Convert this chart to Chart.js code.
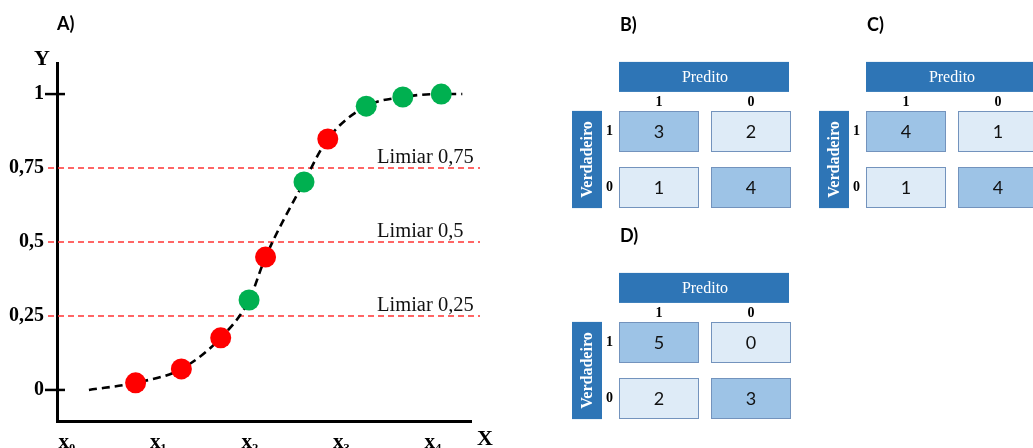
<!DOCTYPE html>
<html>
<head>
<meta charset="utf-8">
<script src="https://cdn.jsdelivr.net/npm/chart.js@4.4.1/dist/chart.umd.min.js"></script>
<style>
  html, body { margin: 0; padding: 0; width: 1033px; height: 448px; overflow: hidden; background: #fff; }
  canvas { position: absolute; }
</style>
</head>
<body>
<canvas id="curve" width="520" height="448" style="left:0;top:0"></canvas>
<canvas id="matB" width="250" height="230" style="left:560px;top:0"></canvas>
<canvas id="matC" width="250" height="230" style="left:807px;top:0"></canvas>
<canvas id="matD" width="250" height="230" style="left:560px;top:211px"></canvas>
<script>
// Scored samples on the logistic curve: position, predicted score, true class (1 / 0)
const scoreX = [0.75, 1.25, 1.68, 1.99, 2.17, 2.59, 2.85, 3.27, 3.67, 4.09];
const scoreY = [0.024, 0.071, 0.176, 0.304, 0.449, 0.703, 0.848, 0.959, 0.990, 1.0];
const trueClass = [0, 0, 0, 1, 0, 1, 0, 1, 1, 1];

// Dashed sigmoid through the samples
const curveX = [0.24, 0.75, 1.25, 1.68, 1.99, 2.17, 2.59, 2.85, 3.27, 3.67, 4.09, 4.32];
const curveY = [0.0, 0.024, 0.071, 0.176, 0.304, 0.449, 0.703, 0.848, 0.959, 0.990, 1.0, 1.0];

// Axis ticks
const xTickValues = [0, 1, 2, 3, 4];
const xTickLabels = ['x\u2080', 'x\u2081', 'x\u2082', 'x\u2083', 'x\u2084'];
const yTickValues = [0, 0.25, 0.5, 0.75, 1];
const yCrossTicks = [0, 1];

// Decision thresholds
const thresholds = [0.75, 0.5, 0.25];

// Confusion matrices (rows: true class, columns: predicted class)
const predLabels = ['1', '0'];
const trueLabels = ['1', '0'];
const matrixB = [[3, 2], [1, 4]];
const matrixC = [[4, 1], [1, 4]];
const matrixD = [[5, 0], [2, 3]];

const RED = '#FF0000';
const GREEN = '#00B050';
const HEADER_BLUE = '#2E75B6';
const CELL_DARK = '#9DC3E6';
const CELL_LIGHT = '#DEEBF7';
const CELL_EDGE = '#7393BD';
const SERIF = '"Liberation Serif", "Times New Roman", serif';
const SANS = 'Lato, "Open Sans", sans-serif';

const fmt = v => String(v).replace('.', ',');

// ---------- Panel A: sigmoid with thresholds ----------
const curveDecor = {
  id: 'curveDecor',
  beforeDatasetsDraw(chart) {
    const { ctx, chartArea, scales } = chart;
    ctx.save();
    thresholds.forEach(t => {
      const y = scales.y.getPixelForValue(t);
      ctx.strokeStyle = '#FF3333';
      ctx.lineWidth = 1.5;
      ctx.setLineDash([6, 4]);
      ctx.beginPath();
      ctx.moveTo(chartArea.left - 9, y);
      ctx.lineTo(chartArea.right + 9, y);
      ctx.stroke();
      ctx.setLineDash([]);
      ctx.fillStyle = '#111';
      ctx.font = '20.5px ' + SERIF;
      ctx.textAlign = 'left';
      ctx.textBaseline = 'alphabetic';
      ctx.fillText('Limiar ' + fmt(t), chartArea.right - 94, y - 5);
    });
    ctx.restore();
  },
  afterDraw(chart) {
    const { ctx, chartArea, scales } = chart;
    ctx.save();
    ctx.strokeStyle = '#000';
    ctx.lineWidth = 2.5;
    yCrossTicks.forEach(v => {
      const y = scales.y.getPixelForValue(v);
      ctx.beginPath();
      ctx.moveTo(chartArea.left - 12, y);
      ctx.lineTo(chartArea.left + 8, y);
      ctx.stroke();
    });
    ctx.fillStyle = '#000';
    ctx.font = 'bold 22px ' + SERIF;
    ctx.textAlign = 'center';
    ctx.textBaseline = 'middle';
    ctx.fillText('Y', chartArea.left - 15, chartArea.top - 4);
    ctx.fillText('X', chartArea.right + 14, chartArea.bottom + 18);
    ctx.font = 'bold 18px ' + SANS;
    ctx.textAlign = 'left';
    ctx.fillText('A)', chartArea.left, 24);
    ctx.restore();
  }
};

new Chart(document.getElementById('curve'), {
  type: 'scatter',
  data: {
    datasets: [
      {
        label: 'amostras',
        data: scoreX.map((x, i) => ({ x, y: scoreY[i] })),
        pointRadius: 10.5,
        pointHoverRadius: 10.5,
        pointBackgroundColor: trueClass.map(c => (c ? GREEN : RED)),
        pointBorderWidth: 0,
        order: 0
      },
      {
        label: 'sigmoide',
        data: curveX.map((x, i) => ({ x, y: curveY[i] })),
        showLine: true,
        borderColor: '#000',
        borderWidth: 2.6,
        borderDash: [8, 5],
        pointRadius: 0,
        cubicInterpolationMode: 'monotone',
        order: 1
      }
    ]
  },
  options: {
    responsive: false,
    animation: false,
    layout: { padding: { top: 63, right: 49, left: 0, bottom: 0 } },
    plugins: { legend: { display: false }, tooltip: { enabled: false } },
    scales: {
      x: {
        type: 'linear',
        min: -0.109,
        max: 4.415,
        afterBuildTicks: s => { s.ticks = xTickValues.map(v => ({ value: v })); },
        afterFit: s => { s.height = 27; },
        grid: { display: false, drawTicks: false },
        border: { display: true, color: '#000', width: 3 },
        ticks: {
          callback: (v, i) => xTickLabels[i],
          font: { family: SERIF, size: 21, weight: 'bold' },
          color: '#000',
          padding: 9,
          maxRotation: 0,
          autoSkip: false
        }
      },
      y: {
        type: 'linear',
        min: -0.105,
        max: 1.105,
        afterBuildTicks: s => { s.ticks = yTickValues.map(v => ({ value: v })); },
        afterFit: s => { s.width = 57; },
        grid: { display: false, drawTicks: false },
        border: { display: true, color: '#000', width: 3 },
        ticks: {
          callback: v => fmt(v),
          font: { family: SERIF, size: 20, weight: 'bold' },
          color: '#000',
          padding: 13,
          autoSkip: false
        }
      }
    }
  },
  plugins: [curveDecor]
});

// ---------- Panels B, C, D: confusion matrices ----------
const ROW_HALF = 0.366;

function makeMatrix(canvasId, letter, matrix) {
  const nRows = trueLabels.length;
  const decor = {
    id: 'matrixDecor',
    afterDatasetsDraw(chart) {
      const { ctx } = chart;
      let cellLeft = Infinity, cellRight = -Infinity, cellTop = Infinity, cellBottom = -Infinity;
      ctx.save();
      chart.data.datasets.forEach((ds, i) => {
        chart.getDatasetMeta(i).data.forEach((el, j) => {
          const p = el.getProps(['x', 'y', 'base', 'width'], true);
          cellLeft = Math.min(cellLeft, p.x - p.width / 2);
          cellRight = Math.max(cellRight, p.x + p.width / 2);
          cellTop = Math.min(cellTop, p.y, p.base);
          cellBottom = Math.max(cellBottom, p.y, p.base);
          ctx.fillStyle = '#111';
          ctx.font = '18px ' + SANS;
          ctx.textAlign = 'center';
          ctx.textBaseline = 'middle';
          ctx.fillText(String(matrix[i][j]), p.x, (p.y + p.base) / 2 + 1);
        });
      });
      // "Predito" header
      const hTop = cellTop - 49, hBottom = cellTop - 19;
      ctx.fillStyle = HEADER_BLUE;
      ctx.fillRect(cellLeft, hTop, cellRight - cellLeft - 2, hBottom - hTop);
      ctx.fillStyle = '#fff';
      ctx.font = '16px ' + SERIF;
      ctx.textAlign = 'center';
      ctx.textBaseline = 'middle';
      ctx.fillText('Predito', (cellLeft + cellRight) / 2, (hTop + hBottom) / 2 + 1);
      // "Verdadeiro" side box
      const vLeft = cellLeft - 47, vRight = cellLeft - 17;
      ctx.fillStyle = HEADER_BLUE;
      ctx.fillRect(vLeft, cellTop, vRight - vLeft, cellBottom - cellTop);
      ctx.save();
      ctx.translate((vLeft + vRight) / 2 + 1, (cellTop + cellBottom) / 2);
      ctx.rotate(-Math.PI / 2);
      ctx.fillStyle = '#fff';
      ctx.font = 'bold 16px ' + SERIF;
      ctx.fillText('Verdadeiro', 0, 0);
      ctx.restore();
      // panel letter
      ctx.fillStyle = '#000';
      ctx.font = 'bold 18px ' + SANS;
      ctx.textAlign = 'left';
      ctx.fillText(letter, cellLeft + 1, hTop - 37);
      ctx.restore();
    }
  };

  new Chart(document.getElementById(canvasId), {
    type: 'bar',
    data: {
      labels: predLabels,
      datasets: trueLabels.map((lab, i) => {
        const r = nRows - 1 - i;
        return {
          label: lab,
          data: matrix[i].map(() => [r - ROW_HALF, r + ROW_HALF]),
          backgroundColor: matrix[i].map((_, j) => (i === j ? CELL_DARK : CELL_LIGHT)),
          borderColor: CELL_EDGE,
          borderWidth: 1,
          borderSkipped: false,
          grouped: false,
          categoryPercentage: 1,
          barPercentage: 80 / 92
        };
      })
    },
    options: {
      responsive: false,
      animation: false,
      layout: { padding: { top: 89, left: 41, right: 13, bottom: 20 } },
      plugins: { legend: { display: false }, tooltip: { enabled: false } },
      scales: {
        x: {
          position: 'top',
          afterFit: s => { s.height = 20; },
          grid: { display: false, drawTicks: false },
          border: { display: false },
          ticks: {
            font: { family: SERIF, size: 14, weight: 'bold' },
            color: '#000',
            padding: -2
          }
        },
        y: {
          type: 'linear',
          min: -0.4,
          max: 1.4,
          afterBuildTicks: s => { s.ticks = trueLabels.map((_, i) => ({ value: nRows - 1 - i })); },
          afterFit: s => { s.width = 12; },
          grid: { display: false, drawTicks: false },
          border: { display: false },
          ticks: {
            callback: v => trueLabels[nRows - 1 - v],
            font: { family: SERIF, size: 14, weight: 'bold' },
            color: '#000',
            padding: 0
          }
        }
      }
    },
    plugins: [decor]
  });
}

makeMatrix('matB', 'B)', matrixB);
makeMatrix('matC', 'C)', matrixC);
makeMatrix('matD', 'D)', matrixD);
</script>
</body>
</html>
